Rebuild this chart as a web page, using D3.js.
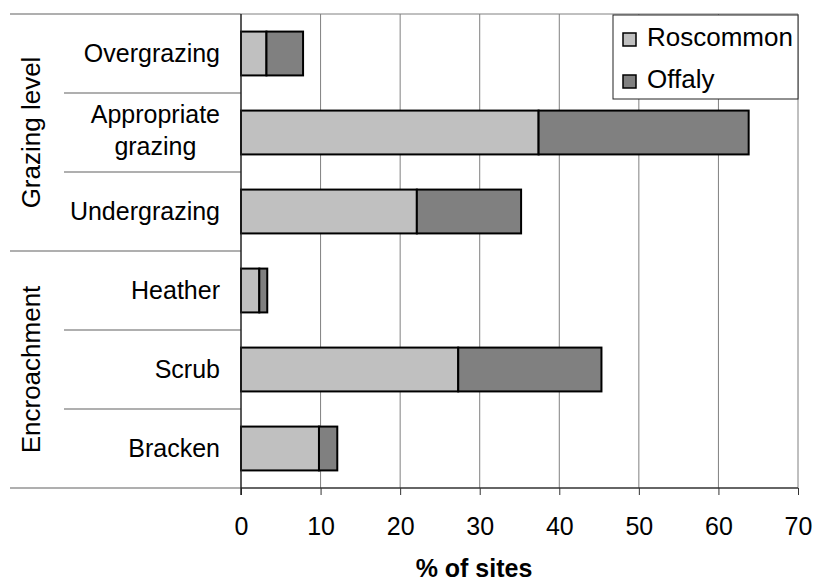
<!DOCTYPE html>
<meta charset="utf-8">
<style>
body { margin: 0; background: #fff; }
svg text { font-family: "Liberation Sans", Arial, sans-serif; fill: #000; }
.grid line { stroke: #808080; stroke-width: 1; }
.sep { stroke: #606060; stroke-width: 1.2; }
.bar { stroke: #000; stroke-width: 2; }
</style>
<svg width="816" height="582"></svg>
<script src="https://d3js.org/d3.v7.min.js"></script>
<script>
    var categories = ["Overgrazing", "Appropriate grazing", "Undergrazing", "Heather", "Scrub", "Bracken"];
    var groups = ["Grazing level", "Encroachment"];
    var groupOf = ["Grazing level", "Grazing level", "Grazing level", "Encroachment", "Encroachment", "Encroachment"];
    var series = ["Roscommon", "Offaly"];
    var roscommon = [3.2, 37.4, 22.1, 2.3, 27.3, 9.8];
    var offaly = [4.6, 26.4, 13.1, 1.0, 18.0, 2.3];
    var xTicks = [0, 10, 20, 30, 40, 50, 60, 70];

    var colors = d3.scaleOrdinal().domain(series).range(["#C0C0C0", "#808080"]);
    var fs = "25px";

    var margin = {left: 241, top: 14, right: 18, bottom: 94};
    var svg = d3.select("svg");
    var width = 816 - margin.left - margin.right;
    var height = 582 - margin.top - margin.bottom;
    var g = svg.append("g")
        .attr("transform", "translate(" + margin.left + "," + margin.top + ")");

    var xScale = d3.scaleLinear().domain([0, 70]).range([0, width]);
    var yScale = d3.scaleBand().domain(categories).range([0, height]).padding(0);

    // table for stacking
    var rows = categories.map(function(c, i) {
        return {cat: c, Roscommon: roscommon[i], Offaly: offaly[i]};
    });
    var stacked = d3.stack().keys(series)(rows);

    // gridlines
    g.append("g")
        .attr("class", "grid")
        .selectAll("line")
        .data(xTicks.slice(1))
        .enter().append("line")
        .attr("x1", function(d) { return xScale(d); })
        .attr("x2", function(d) { return xScale(d); })
        .attr("y1", 0)
        .attr("y2", height);

    g.append("line")
        .attr("x1", 0).attr("x2", width)
        .attr("y1", 0).attr("y2", 0)
        .style("stroke", "#808080");

    // category separators (long ones between groups)
    var bounds = [];
    categories.forEach(function(c, i) {
        bounds.push({y: yScale(c), long: i === 0 || groupOf[i] !== groupOf[i - 1]});
    });
    bounds.push({y: height, long: true});

    g.selectAll(".sep")
        .data(bounds)
        .enter().append("line")
        .attr("class", "sep")
        .attr("x1", function(d) { return d.long ? 10 - margin.left : 64 - margin.left; })
        .attr("x2", 0)
        .attr("y1", function(d) { return d.y; })
        .attr("y2", function(d) { return d.y; });

    // bars
    var barH = yScale.bandwidth() * 0.555;
    g.append("g")
        .selectAll("g")
        .data(stacked)
        .enter().append("g")
        .attr("fill", function(d) { return colors(d.key); })
        .selectAll("rect")
        .data(function(d) { return d; })
        .enter().append("rect")
        .attr("class", "bar")
        .attr("x", function(d) { return xScale(d[0]); })
        .attr("width", function(d) { return xScale(d[1]) - xScale(d[0]); })
        .attr("y", function(d) { return yScale(d.data.cat) + (yScale.bandwidth() - barH) / 2; })
        .attr("height", barH);

    // x axis
    var xAxis = g.append("g")
        .attr("transform", "translate(0," + height + ")")
        .call(d3.axisBottom(xScale).tickValues(xTicks).tickSize(7).tickSizeOuter(0).tickPadding(22));
    xAxis.select(".domain").remove();
    xAxis.selectAll("line").attr("stroke", "#333");
    xAxis.selectAll("text")
        .style("font-size", fs)
        .style("font-family", "'Liberation Sans', Arial, sans-serif");

    // bottom and left axis lines
    g.append("line")
        .attr("x1", 0).attr("x2", width)
        .attr("y1", height).attr("y2", height)
        .attr("stroke", "#333").attr("stroke-width", 1.5);
    g.append("line")
        .attr("x1", 0).attr("x2", 0)
        .attr("y1", 0).attr("y2", height + 7)
        .attr("stroke", "#222").attr("stroke-width", 1.5);

    // category labels (wrapped, right aligned block)
    var labelRight = -21;
    categories.forEach(function(c) {
        var words = c.split(" ");
        var lines = c.length > 14 ? [words[0], words.slice(1).join(" ")] : [c];
        var cy = yScale(c) + yScale.bandwidth() / 2;
        var t = g.append("text")
            .style("font-size", fs)
            .attr("text-anchor", "middle");
        lines.forEach(function(l, i) {
            t.append("tspan")
                .attr("y", cy + 8 + (i - (lines.length - 1) / 2) * 32 - (lines.length > 1 ? 2 : 0))
                .text(l);
        });
        var w = d3.max(t.selectAll("tspan").nodes(), function(n) { return n.getComputedTextLength(); });
        t.selectAll("tspan").attr("x", labelRight - w / 2);
    });

    // group labels
    groups.forEach(function(gr) {
        var cats = categories.filter(function(c, i) { return groupOf[i] === gr; });
        var y0 = yScale(cats[0]);
        var y1 = yScale(cats[cats.length - 1]) + yScale.bandwidth();
        g.append("text")
            .attr("transform", "translate(" + (31 - margin.left) + "," + ((y0 + y1) / 2) + ") rotate(-90)")
            .attr("text-anchor", "middle")
            .attr("dominant-baseline", "central")
            .style("font-size", "26px")
            .text(gr);
    });

    // axis title
    svg.append("text")
        .attr("x", 474)
        .attr("y", 577)
        .attr("text-anchor", "middle")
        .style("font-size", "25px")
        .style("font-weight", "bold")
        .text("% of sites");

    // legend
    var legend = svg.append("g").attr("transform", "translate(613,15)");
    legend.append("rect")
        .attr("width", 185).attr("height", 84)
        .attr("fill", "#fff").attr("stroke", "#222").attr("stroke-width", 1);
    var li = legend.selectAll(".li")
        .data(series)
        .enter().append("g")
        .attr("transform", function(d, i) { return "translate(10," + (18 + i * 42) + ")"; });
    li.append("rect")
        .attr("width", 13).attr("height", 13)
        .attr("fill", function(d) { return colors(d); })
        .attr("stroke", "#000").attr("stroke-width", 1.5);
    li.append("text")
        .attr("x", 24)
        .attr("y", 13)
        .style("font-size", "26px")
        .text(function(d) { return d; });
</script>
